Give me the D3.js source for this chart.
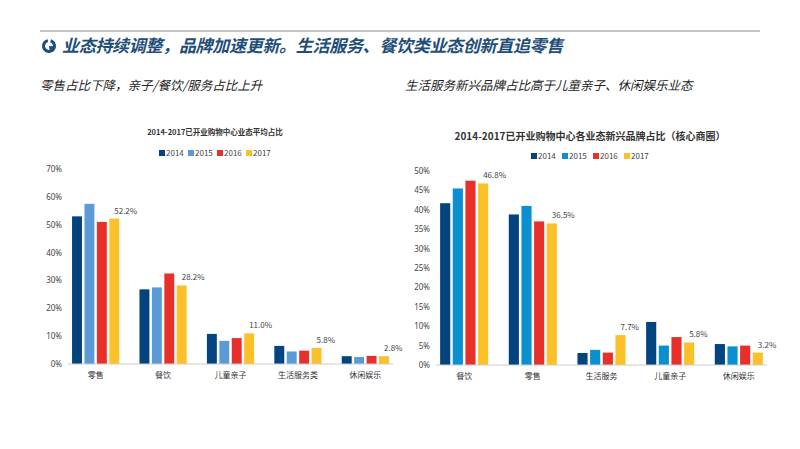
<!DOCTYPE html>
<html><head><meta charset="utf-8">
<script src="https://cdn.jsdelivr.net/npm/d3@7"></script>
<style>body{margin:0;background:#fff}svg{display:block;font-family:"Noto Sans CJK SC","Noto Sans",sans-serif}</style>
</head><body><svg id="c" width="800" height="449"></svg>
<script>
const years = ["2014","2015","2016","2017"];
const leftCats = ["零售","餐饮","儿童亲子","生活服务类","休闲娱乐"];
const left2014 = [53.0,26.8,10.8,6.5,2.8];
const left2015 = [57.5,27.5,8.3,4.5,2.5];
const left2016 = [51.0,32.5,9.3,4.8,2.9];
const left2017 = [52.2,28.2,11.0,5.8,2.8];
const leftTicks = [0,10,20,30,40,50,60,70];
const rightCats = ["餐饮","零售","生活服务","儿童亲子","休闲娱乐"];
const right2014 = [41.7,38.8,3.1,11.1,5.4];
const right2015 = [45.5,41.0,3.9,5.0,4.8];
const right2016 = [47.5,37.0,3.2,7.2,5.0];
const right2017 = [46.8,36.5,7.7,5.8,3.2];
const rightTicks = [0,5,10,15,20,25,30,35,40,45,50];

const svg = d3.select("#c");
svg.append("line").attr("x1",40).attr("x2",760).attr("y1",31).attr("y2",31).attr("stroke","#888");
const ic = svg.append("g").attr("transform","translate(49,46)");
ic.append("path").attr("d",d3.arc()({innerRadius:4,outerRadius:7,startAngle:0.3,endAngle:2*Math.PI-0.2})).attr("fill","#1f4e79");
ic.append("path").attr("d",d3.arc()({innerRadius:0,outerRadius:5,startAngle:1.6,endAngle:3.0})).attr("fill","#1f4e79");
svg.append("text").attr("x",62).attr("y",52).text("业态持续调整，品牌加速更新。生活服务、餐饮类业态创新直追零售")
  .attr("fill","#1f4e79").attr("font-size",17).attr("font-weight","bold").attr("font-style","italic").attr("letter-spacing",-0.3);
svg.append("text").attr("x",40).attr("y",90).text("零售占比下降，亲子/餐饮/服务占比上升").attr("font-size",12.5).attr("fill","#222").attr("font-style","italic");
svg.append("text").attr("x",405).attr("y",90).text("生活服务新兴品牌占比高于儿童亲子、休闲娱乐业态").attr("font-size",12.5).attr("fill","#222").attr("font-style","italic");

function chart(o){
  const g = svg.append("g");
  const x = d3.scaleBand().domain(o.cats).range([o.x0,o.x1]).paddingInner(0.3).paddingOuter(0.06);
  const xs = d3.scaleBand().domain(years).range([0,x.bandwidth()]).paddingInner(0.2);
  const y = d3.scaleLinear().domain([0,o.max]).range([o.y0,o.y1]);
  g.append("text").attr("x",o.tx).attr("y",o.ty).attr("text-anchor","middle").attr("font-size",o.tfs).attr("font-weight","bold").attr("fill","#333").text(o.title);
  const lg = g.append("g").attr("transform",`translate(${o.lx},${o.ly})`);
  years.forEach((yr,i)=>{
    lg.append("rect").attr("x",i*o.lstep).attr("y",-6).attr("width",6).attr("height",6).attr("fill",o.colors[i]);
    lg.append("text").attr("x",i*o.lstep+7).attr("y",0).attr("font-size",8).attr("fill","#444").text(yr);
  });
  const ax = g.append("g").attr("transform",`translate(${o.x0},0)`).call(d3.axisLeft(y).tickValues(o.ticks).tickFormat(d=>d+"%").tickSize(0).tickPadding(6));
  ax.select(".domain").remove();
  ax.selectAll("text").attr("font-size",8).attr("fill","#444").attr("font-family","Noto Sans,sans-serif");
  o.series.forEach((s,i)=>{
    g.selectAll(null).data(s).enter().append("rect")
      .attr("x",(d,j)=>x(o.cats[j])+xs(years[i])).attr("width",xs.bandwidth())
      .attr("y",d=>y(d)).attr("height",d=>y(0)-y(d)).attr("fill",o.colors[i]);
  });
  const last = o.series[3];
  g.selectAll(null).data(last).enter().append("text")
    .attr("x",(d,j)=>x(o.cats[j])+xs("2017")+xs.bandwidth()/2).attr("y",d=>y(d)-5)
    .attr("text-anchor","start").attr("font-size",8).attr("fill","#444").text(d=>d.toFixed(1)+"%");
  g.append("line").attr("x1",o.x0).attr("x2",o.x1).attr("y1",y(0)).attr("y2",y(0)).attr("stroke","#ccc");
  g.selectAll(null).data(o.cats).enter().append("text").attr("x",d=>x(d)+x.bandwidth()/2).attr("y",o.y0+14)
    .attr("text-anchor","middle").attr("font-size",8).attr("fill","#333").text(d=>d);
}
chart({cats:leftCats,series:[left2014,left2015,left2016,left2017],max:70,ticks:leftTicks,x0:68,x1:393,y0:364,y1:169,
  colors:["#03437e","#5b9bd5","#e8302a","#fcc12a"],title:"2014-2017已开业购物中心业态平均占比",tx:215,ty:135,tfs:7.5,lx:159,ly:156,lstep:29});
chart({cats:rightCats,series:[right2014,right2015,right2016,right2017],max:50,ticks:rightTicks,x0:436,x1:767,y0:365,y1:171,
  colors:["#03437e","#0a8fd0","#e8302a","#fcc12a"],title:"2014-2017已开业购物中心各业态新兴品牌占比（核心商圈）",tx:590,ty:140,tfs:10,lx:531,ly:159,lstep:31});
</script></body></html>
